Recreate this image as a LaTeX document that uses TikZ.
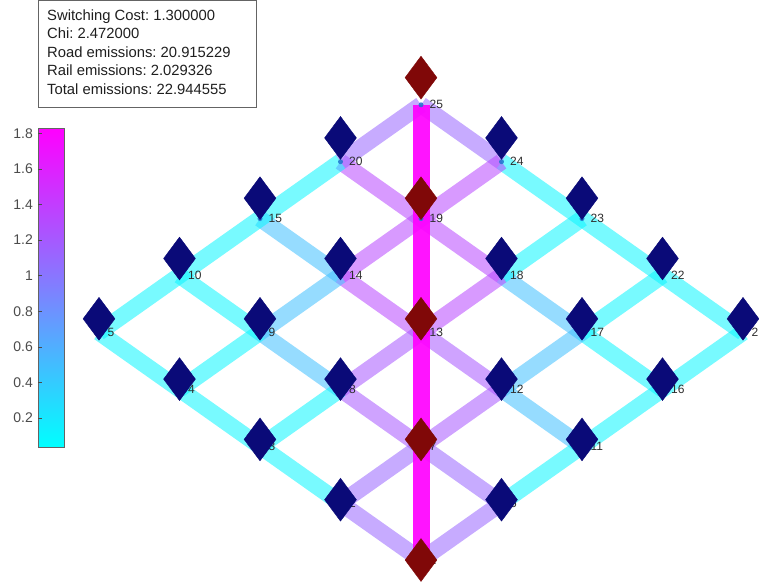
\documentclass[tikz,border=0pt]{standalone}
\usepackage{fontspec}
\setmainfont{Liberation Sans}
\usetikzlibrary{shapes.geometric}
\definecolor{ccyan}{rgb}{0,1,1}
\definecolor{cmag}{rgb}{1,0,1}
\definecolor{ecyan}{rgb}{0.04,0.96,1}
\definecolor{eblue}{rgb}{0.25,0.75,1}
\definecolor{elav}{rgb}{0.6,0.4,1}
\definecolor{elavb}{rgb}{0.66,0.34,1}
\definecolor{epur}{rgb}{0.72,0.28,1}
\definecolor{dotblue}{RGB}{30,115,205}
\definecolor{mnavy}{RGB}{10,10,120}
\definecolor{mred}{RGB}{128,8,8}
\definecolor{lblgray}{RGB}{45,45,45}
\definecolor{tickgray}{RGB}{75,75,75}
\definecolor{boxgray}{RGB}{100,100,100}
\frenchspacing
\begin{document}
\begin{tikzpicture}[x=1pt,y=-1pt,
  band/.style={line width=16.5pt, draw opacity=0.55},
  railband/.style={line width=17pt, draw=cmag, draw opacity=0.92},
  nodedot/.style={circle, fill=dotblue, fill opacity=0.85, inner sep=0pt, minimum size=5pt},
  mk/.style={diamond, inner sep=0pt, minimum width=32pt, minimum height=43pt},
  lbl/.style={anchor=west, inner sep=0.5pt, font=\fontsize{12}{12}\selectfont, text=lblgray},
  ticklbl/.style={anchor=east, inner sep=0pt, font=\fontsize{14}{14}\selectfont, text=tickgray},
  boxtxt/.style={anchor=base west, inner sep=0pt, font=\fontsize{14.8}{14.8}\selectfont, text=black!88}]
\useasboundingbox (0,0) rectangle (759,584);
\clip (0,0) rectangle (759,584);
% node points and marker points
\foreach \i in {0,...,4}{\foreach \j in {0,...,4}{
  \pgfmathtruncatemacro\k{5*\j+\i+1}
  \pgfmathsetmacro\xx{421+(\j-\i)*80.5}
  \pgfmathsetmacro\yy{560-(\i+\j)*56.9}
  \pgfmathsetmacro\yd{560-(\i+\j)*60.3}
  \coordinate (n\k) at (\xx,\yy);
  \coordinate (p\k) at (\xx,\yd);
}}
% edges
\foreach \a/\b/\c in {
  25/24/elav, 24/23/ecyan, 23/22/ecyan, 22/21/ecyan,
  20/19/epur, 19/18/epur, 18/17/eblue, 17/16/ecyan,
  15/14/eblue, 14/13/epur, 13/12/elavb, 12/11/eblue,
  10/9/ecyan, 9/8/eblue, 8/7/elavb, 7/6/elav,
  5/4/ecyan, 4/3/ecyan, 3/2/ecyan, 2/1/elav,
  25/20/elav, 20/15/ecyan, 15/10/ecyan, 10/5/ecyan,
  24/19/epur, 19/14/epur, 14/9/eblue, 9/4/ecyan,
  23/18/ecyan, 18/13/epur, 13/8/elavb, 8/3/ecyan,
  22/17/ecyan, 17/12/eblue, 12/7/elavb, 7/2/elav,
  21/16/ecyan, 16/11/ecyan, 11/6/ecyan, 6/1/elav}
  \draw[band, draw=\c] (n\a) -- (n\b);
% rail line
\draw[railband] (n25) -- (n1);
% dots
\foreach \k in {1,...,25} \node[nodedot] (d\k) at (n\k) {};
% labels
\foreach \k in {1,...,25} \node[lbl] (l\k) at ([xshift=8pt]n\k) {\k};
% markers
\foreach \k in {2,3,4,5,6,8,9,10,11,12,14,15,16,17,18,20,21,22,23,24}
  \node[mk, fill=mnavy, draw=mnavy] (m\k) at (p\k) {};
\foreach \k in {1,7,13,19,25}
  \node[mk, fill=mred, draw=mred] (m\k) at (p\k) {};
% colorbar
\shade[bottom color=ccyan, top color=cmag] (38,128) rectangle (64,447);
\draw[boxgray, line width=0.6pt] (38,128) rectangle (64,447);
\foreach \v/\t [count=\n] in {0.2/0.2,0.4/0.4,0.6/0.6,0.8/0.8,1.0/1,1.2/1.2,1.4/1.4,1.6/1.6,1.8/1.8}{
  \pgfmathsetmacro\ty{418-(\v-0.2)/0.2*35.6}
  \draw[tickgray, line width=0.6pt] (38,\ty) -- (41.5,\ty);
  \node[ticklbl] (t\n) at (33,\ty) {\t};
}
% info box
\draw[boxgray, line width=0.8pt, fill=white] (38.5,0.5) rectangle (256.5,107.5);
\node[boxtxt] (b1) at (47,20.3) {Switching Cost: 1.300000};
\node[boxtxt] (b2) at (47,38.8) {Chi: 2.472000};
\node[boxtxt] (b3) at (47,57.3) {Road emissions: 20.915229};
\node[boxtxt] (b4) at (47,75.8) {Rail emissions: 2.029326};
\node[boxtxt] (b5) at (47,94.3) {Total emissions: 22.944555};
\end{tikzpicture}
\end{document}
